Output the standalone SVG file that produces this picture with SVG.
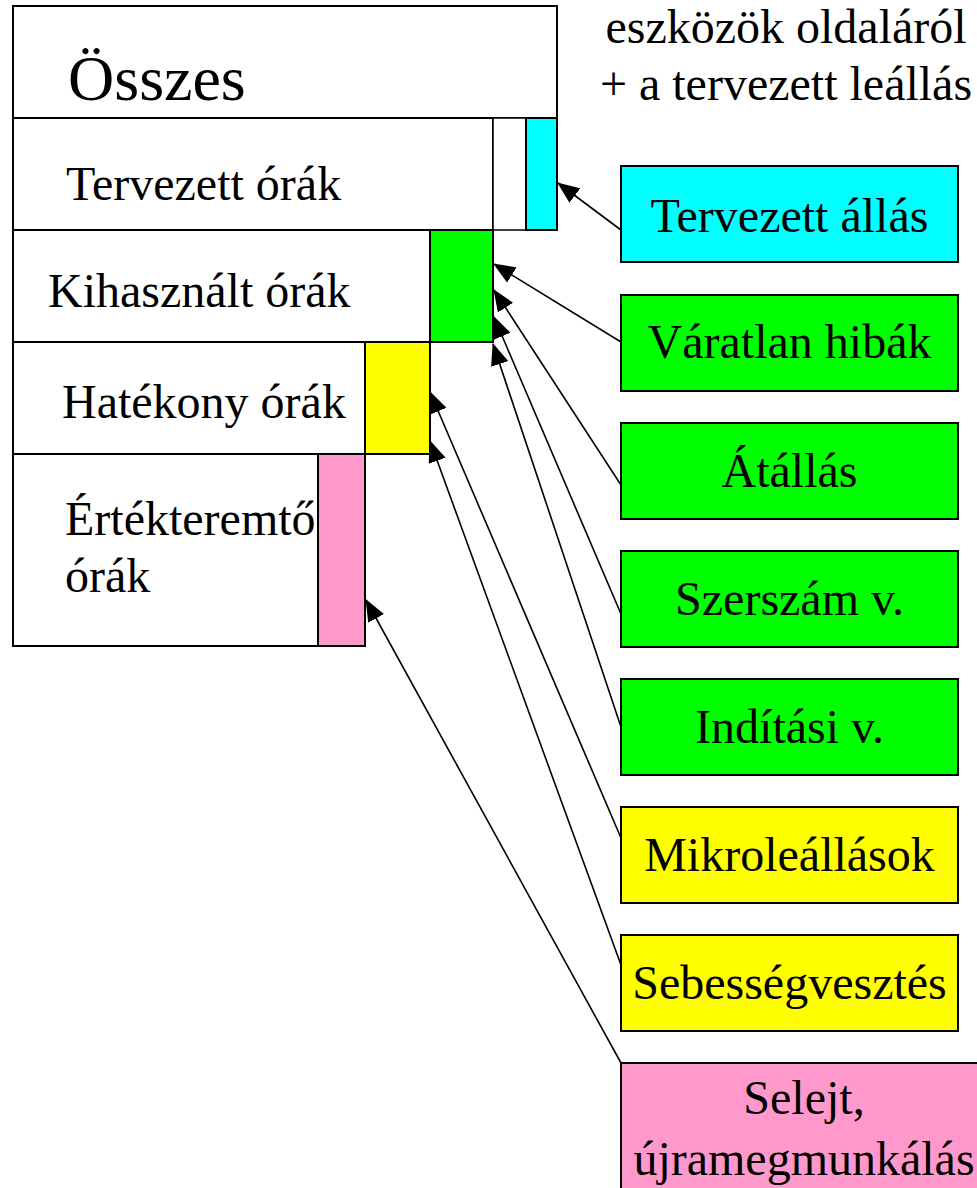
<svg xmlns="http://www.w3.org/2000/svg" width="977" height="1188" viewBox="0 0 977 1188" font-family="'Liberation Serif', 'DejaVu Serif', serif">
  <style>
    .box { stroke: #000; stroke-width: 2; }
    .thin { stroke: #000; stroke-width: 1.5; }
    .w { fill: #fff; }
    .cyan { fill: #00ffff; }
    .green { fill: #00ff00; }
    .yellow { fill: #ffff00; }
    .pink { fill: #ff99cc; }
    text { font-family: 'Liberation Serif', 'DejaVu Serif', serif; fill: #000; }
    .lbl { font-size: 48px; }
    .big { font-size: 64px; }
    .c { text-anchor: middle; }
    .conn { stroke: #000; stroke-width: 1.6; fill: none; marker-end: url(#arrow); }
  </style>
  <defs>
    <marker id="arrow" viewBox="0 0 22 18" refX="21" refY="9" markerWidth="22" markerHeight="18" markerUnits="userSpaceOnUse" orient="auto">
      <path d="M0,0 L22,9 L0,18 z" fill="#000"/>
    </marker>
  </defs>
  <rect width="977" height="1188" fill="#fff"/>

  <!-- stacked hours breakdown -->
  <g id="osszes">
    <rect class="box w" x="13" y="6" width="544" height="112"/>
    <text class="big" x="68" y="100">Összes</text>
  </g>
  <g id="tervezett-orak">
    <rect class="box w" x="13" y="118" width="480" height="112"/>
    <rect class="thin w" x="493" y="118" width="33" height="112"/>
    <rect class="box cyan" x="526" y="118" width="31" height="112"/>
    <text class="lbl" x="66" y="200">Tervezett órák</text>
  </g>
  <g id="kihasznalt-orak">
    <rect class="box w" x="13" y="230" width="417" height="112"/>
    <rect class="box green" x="430" y="230" width="63" height="112"/>
    <text class="lbl" x="48" y="307">Kihasznált órák</text>
  </g>
  <g id="hatekony-orak">
    <rect class="box w" x="13" y="342" width="352" height="112"/>
    <rect class="box yellow" x="365" y="342" width="65" height="112"/>
    <text class="lbl" x="62" y="418">Hatékony órák</text>
  </g>
  <g id="ertekteremto-orak">
    <rect class="box w" x="13" y="454" width="305" height="192"/>
    <rect class="box pink" x="318" y="454" width="47" height="192"/>
    <text class="lbl" x="65" y="535">Értékteremtő</text>
    <text class="lbl" x="65" y="592">órák</text>
  </g>

  <!-- heading note -->
  <g id="note">
    <text class="lbl c" x="786" y="43">eszközök oldaláról</text>
    <text class="lbl c" x="786" y="100">+ a tervezett leállás</text>
  </g>

  <!-- loss categories -->
  <g id="tervezett-allas">
    <rect class="box cyan" x="621" y="166" width="337" height="96"/>
    <text class="lbl c" x="789.5" y="232">Tervezett állás</text>
  </g>
  <g id="varatlan-hibak">
    <rect class="box green" x="621" y="295" width="337" height="96"/>
    <text class="lbl c" x="789.5" y="358">Váratlan hibák</text>
  </g>
  <g id="atallas">
    <rect class="box green" x="621" y="423" width="337" height="96"/>
    <text class="lbl c" x="789.5" y="487">Átállás</text>
  </g>
  <g id="szerszam">
    <rect class="box green" x="621" y="551" width="337" height="96"/>
    <text class="lbl c" x="789.5" y="615">Szerszám v.</text>
  </g>
  <g id="inditasi">
    <rect class="box green" x="621" y="679" width="337" height="96"/>
    <text class="lbl c" x="789.5" y="743">Indítási v.</text>
  </g>
  <g id="mikroleallasok">
    <rect class="box yellow" x="621" y="807" width="337" height="96"/>
    <text class="lbl c" x="789.5" y="871">Mikroleállások</text>
  </g>
  <g id="sebessegvesztes">
    <rect class="box yellow" x="621" y="935" width="337" height="96"/>
    <text class="lbl c" x="789.5" y="999">Sebességvesztés</text>
  </g>
  <g id="selejt">
    <rect class="box pink" x="621" y="1063" width="380" height="160"/>
    <text class="lbl c" x="804" y="1114">Selejt,</text>
    <text class="lbl c" x="804" y="1175">újramegmunkálás</text>
  </g>

  <g id="connectors">
    <line class="conn" x1="621" y1="230" x2="558" y2="183"/>
    <line class="conn" x1="621" y1="342" x2="494" y2="264"/>
    <line class="conn" x1="621" y1="485" x2="494" y2="290"/>
    <line class="conn" x1="621" y1="614" x2="494" y2="317"/>
    <line class="conn" x1="621" y1="727" x2="493" y2="344"/>
    <line class="conn" x1="621" y1="838" x2="430" y2="392"/>
    <line class="conn" x1="621" y1="965" x2="430" y2="441"/>
    <line class="conn" x1="621" y1="1063" x2="366" y2="600"/>
  </g>
</svg>
